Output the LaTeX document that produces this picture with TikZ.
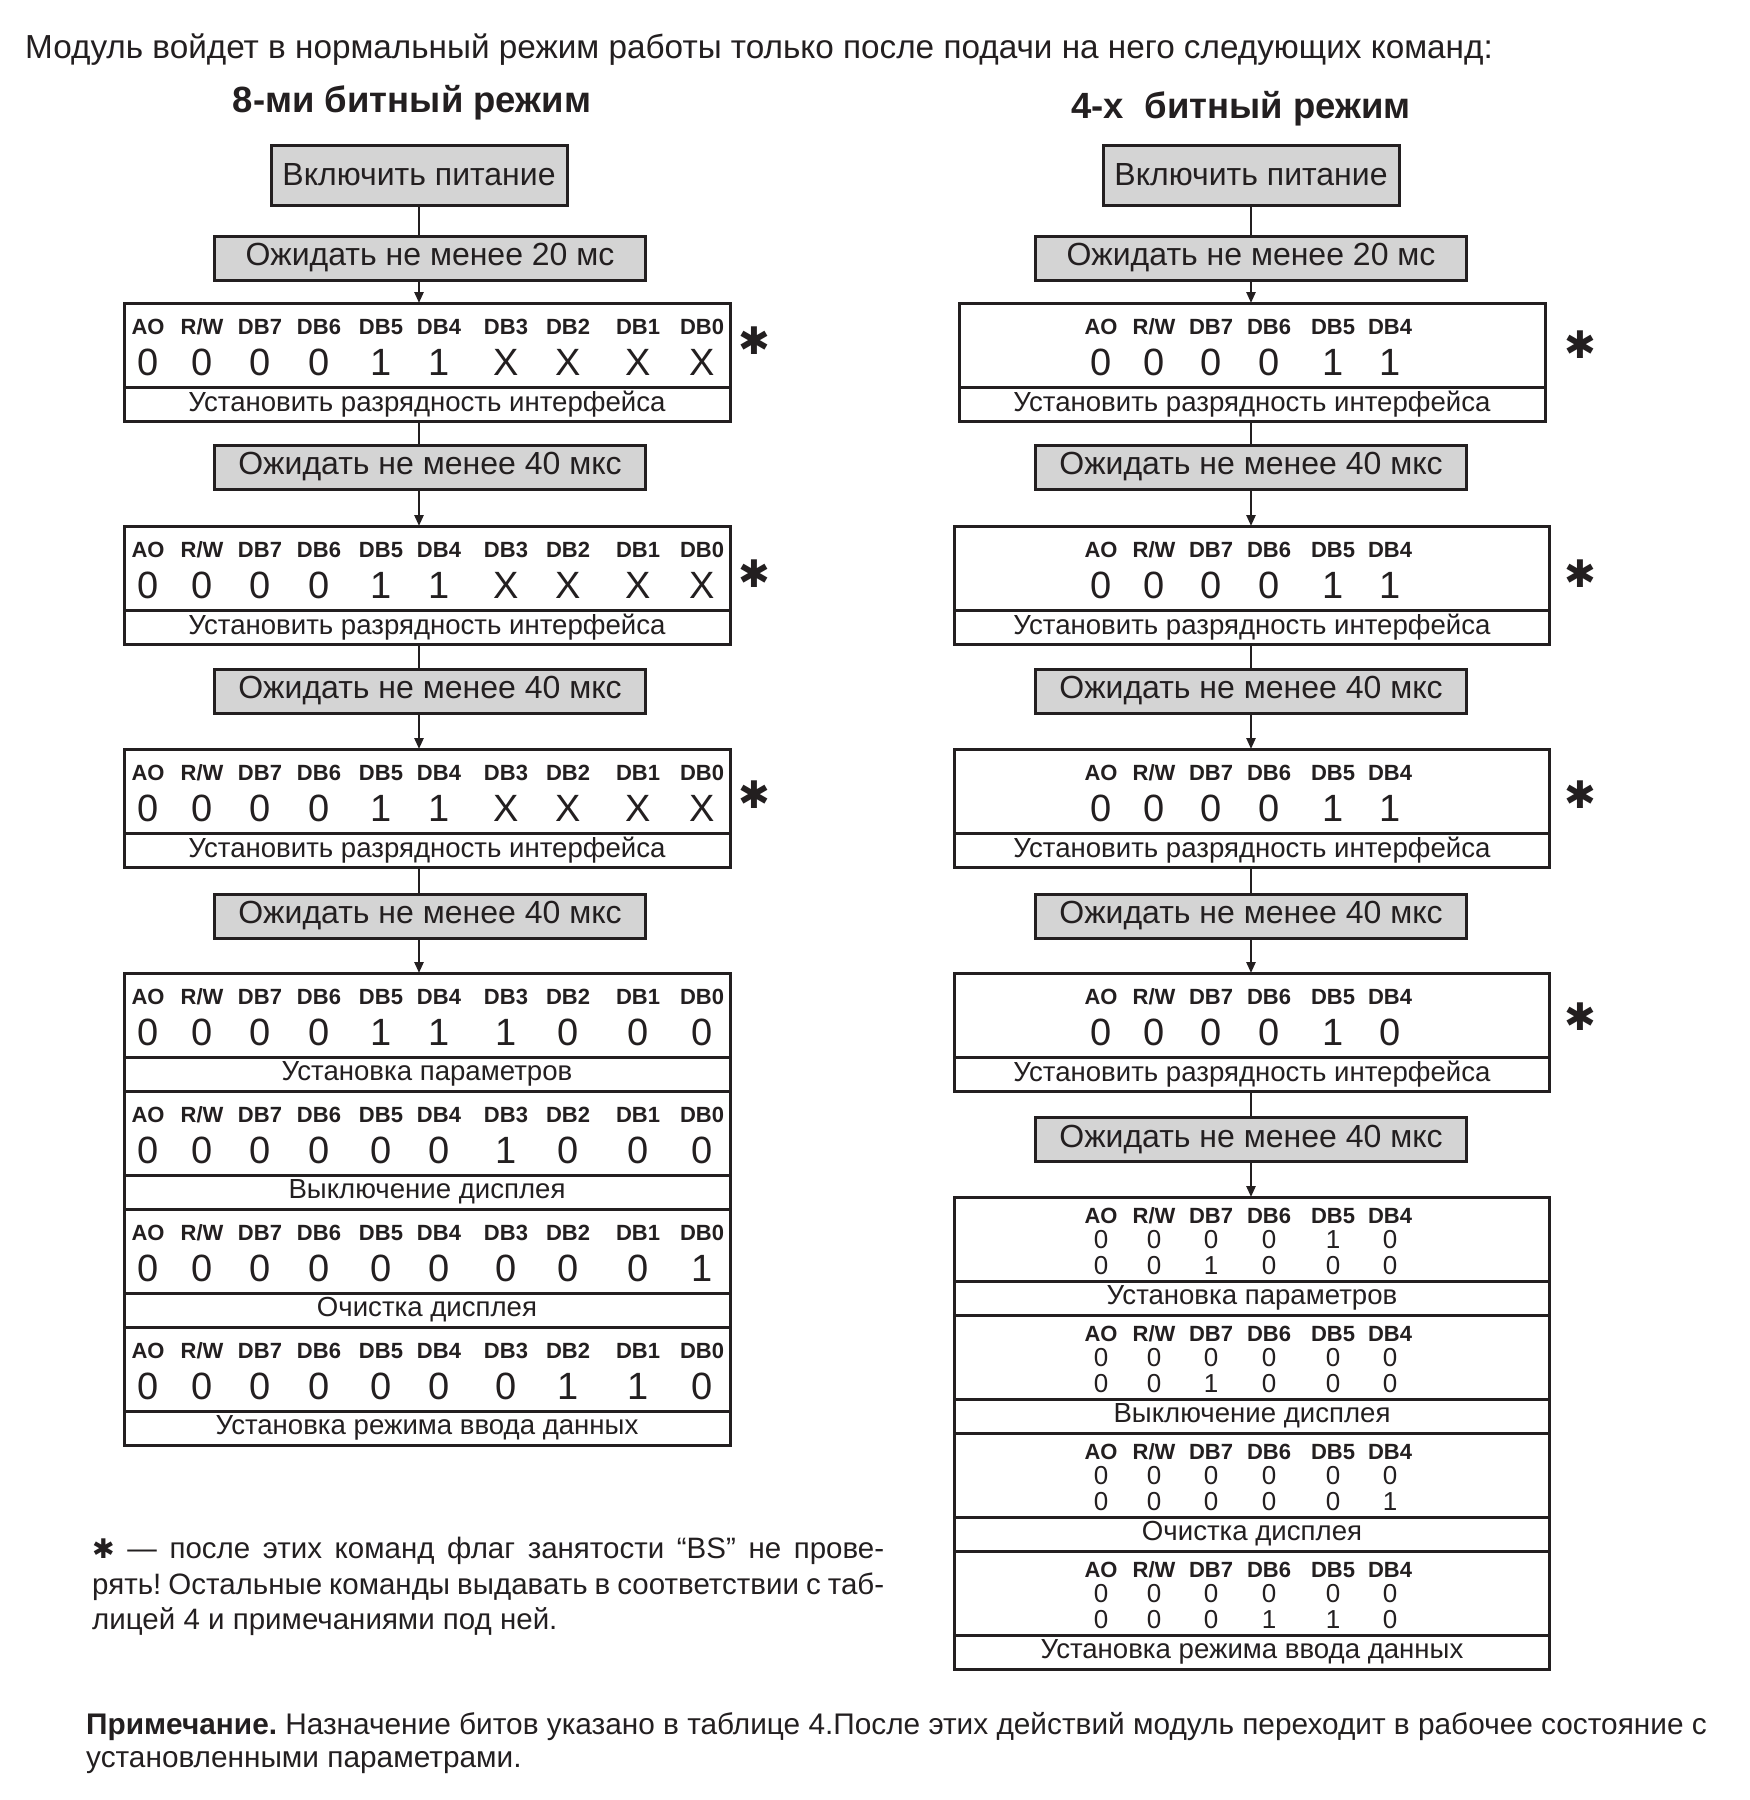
\documentclass[tikz,border=0pt]{standalone}
\usepackage{fontspec}
\setmainfont{Liberation Sans}
\newfontfamily\symfont{DejaVu Sans}
\usetikzlibrary{arrows.meta,calc}
\frenchspacing

\definecolor{ink}{RGB}{35,31,32}
\definecolor{boxgray}{RGB}{212,212,212}
\newcommand\fsz[1]{\fontsize{#1}{#1}\selectfont}

\tikzset{
  frame/.style={draw=ink, line width=3pt, inner sep=0pt, outer sep=0pt, text=ink},
  powerbox/.style={frame, fill=boxgray, minimum width=296pt, minimum height=60pt, font=\fsz{32}},
  waitbox/.style={frame, fill=boxgray, minimum width=431pt, minimum height=44pt, font=\fsz{32}},
  field8/.style={frame, fill=white, minimum width=606pt, minimum height=84pt},
  cap8/.style={frame, fill=white, minimum width=606pt, minimum height=34pt, font=\fsz{27.6}, anchor=north},
  field4/.style={frame, fill=white, minimum width=595pt, minimum height=84pt},
  cap4/.style={frame, fill=white, minimum width=595pt, minimum height=34pt, font=\fsz{27.6}, anchor=north},
  bitlbl/.style={inner sep=0pt, text=ink, font=\fsz{22}\bfseries, text height=16pt, text depth=0pt},
  bitval/.style={inner sep=0pt, text=ink, font=\fsz{38}, text height=27pt, text depth=0pt},
  bitsmall/.style={inner sep=0pt, text=ink, font=\fsz{26}, text height=18pt, text depth=0pt},
  star/.style={inner sep=0pt, text=ink, font=\symfont\fsz{38}},
  link/.style={draw=ink, line width=2.5pt},
  feed/.style={link, -{Triangle[width=9pt,length=11pt]}},
}

% 8-bit field: box name, ten values
\newcommand\bitsE[2]{%
  \foreach \dx/\l [count=\i] in {24/AO,78/{R/W},136/DB7,195/DB6,257/DB5,315/DB4,382/DB3,444/DB2,514/DB1,578/DB0}
    \node[bitlbl] (#1-l\i) at ($(#1.north west)+(\dx,23)$) {\l};
  \foreach \v [count=\i] in {#2}
    \node[bitval] (#1-v\i) at ($(#1-l\i)+(0,36)$) {\v};
}
% 4-bit field: box name, six values
\newcommand\bitsF[2]{%
  \foreach \dx/\l [count=\i] in {-151/AO,-98/{R/W},-41/DB7,17/DB6,81/DB5,138/DB4}
    \node[bitlbl] (#1-l\i) at ($(#1.north)+(\dx,23)$) {\l};
  \foreach \v [count=\i] in {#2}
    \node[bitval] (#1-v\i) at ($(#1-l\i)+(0,36)$) {\v};
}
% 4-bit field sent as two nibbles: box name, first, second
\newcommand\bitsFF[3]{%
  \foreach \dx/\l [count=\i] in {-151/AO,-98/{R/W},-41/DB7,17/DB6,81/DB5,138/DB4}
    \node[bitlbl] (#1-l\i) at ($(#1.north)+(\dx,18)$) {\l};
  \foreach \v [count=\i] in {#2}
    \node[bitsmall] (#1-a\i) at ($(#1-l\i)+(0,24)$) {\v};
  \foreach \v [count=\i] in {#3}
    \node[bitsmall] (#1-b\i) at ($(#1-l\i)+(0,50)$) {\v};
}

\begin{document}
\begin{tikzpicture}[x=1pt,y=-1pt]
\useasboundingbox (0,0) rectangle (1750,1800);

% heading
\node[anchor=base west, inner sep=0pt, text=ink, font=\fsz{33.3}] (intro) at (25,58)
  {Модуль войдет в нормальный режим работы только после подачи на него следующих команд:};
\node[anchor=base, inner sep=0pt, text=ink, font=\fsz{36.5}\bfseries] (head8) at (412,112) {8-ми битный режим};
\node[anchor=base, inner sep=0pt, text=ink, font=\fsz{36.5}\bfseries] (head4) at (1241,118) {4-х\ \ битный режим};

% --- 8-BIT ---
\node[powerbox] (p8) at (419,175) {Включить питание};
\node[waitbox] (w8a) at (430,258) {Ожидать не менее 20 мс};
\node[field8] (c8a) at (427,345) {};
\node[cap8] (c8a-t) at (c8a.south) {Установить разрядность интерфейса};
\node[waitbox] (w8b) at (430,467) {Ожидать не менее 40 мкс};
\node[field8] (c8b) at (427,568) {};
\node[cap8] (c8b-t) at (c8b.south) {Установить разрядность интерфейса};
\node[waitbox] (w8c) at (430,691) {Ожидать не менее 40 мкс};
\node[field8] (c8c) at (427,791) {};
\node[cap8] (c8c-t) at (c8c.south) {Установить разрядность интерфейса};
\node[waitbox] (w8d) at (430,916) {Ожидать не менее 40 мкс};
% final block
\node[field8] (s8a) at (427,1015) {};
\node[cap8] (s8a-t) at (s8a.south) {Установка параметров};
\node[field8, anchor=north] (s8b) at (s8a-t.south) {};
\node[cap8] (s8b-t) at (s8b.south) {Выключение дисплея};
\node[field8, anchor=north] (s8c) at (s8b-t.south) {};
\node[cap8] (s8c-t) at (s8c.south) {Очистка дисплея};
\node[field8, anchor=north] (s8d) at (s8c-t.south) {};
\node[cap8] (s8d-t) at (s8d.south) {Установка режима ввода данных};

\bitsE{c8a}{0,0,0,0,1,1,X,X,X,X}
\bitsE{c8b}{0,0,0,0,1,1,X,X,X,X}
\bitsE{c8c}{0,0,0,0,1,1,X,X,X,X}
\bitsE{s8a}{0,0,0,0,1,1,1,0,0,0}
\bitsE{s8b}{0,0,0,0,0,0,1,0,0,0}
\bitsE{s8c}{0,0,0,0,0,0,0,0,0,1}
\bitsE{s8d}{0,0,0,0,0,0,0,1,1,0}

\foreach \a/\b in {p8/w8a,c8a-t/w8b,c8b-t/w8c,c8c-t/w8d}
  \draw[link] (p8.south |- \a.south) -- (p8.south |- \b.north);
\foreach \a/\b in {w8a/c8a,w8b/c8b,w8c/c8c,w8d/s8a}
  \draw[feed] (p8.south |- \a.south) -- (p8.south |- \b.north);

\node[star] (st8a) at (754,341) {✱};
\node[star] (st8b) at (754,574) {✱};
\node[star] (st8c) at (754,795) {✱};

% --- 4-BIT ---
\node[powerbox] (p4) at (1251,175) {Включить питание};
\node[waitbox] (w4a) at (1251,258) {Ожидать не менее 20 мс};
\node[field4, minimum width=586pt] (c4a) at (1252,345) {};
\node[cap4, minimum width=586pt] (c4a-t) at (c4a.south) {Установить разрядность интерфейса};
\node[waitbox] (w4b) at (1251,467) {Ожидать не менее 40 мкс};
\node[field4] (c4b) at (1252,568) {};
\node[cap4] (c4b-t) at (c4b.south) {Установить разрядность интерфейса};
\node[waitbox] (w4c) at (1251,691) {Ожидать не менее 40 мкс};
\node[field4] (c4c) at (1252,791) {};
\node[cap4] (c4c-t) at (c4c.south) {Установить разрядность интерфейса};
\node[waitbox] (w4d) at (1251,916) {Ожидать не менее 40 мкс};
\node[field4] (c4d) at (1252,1015) {};
\node[cap4] (c4d-t) at (c4d.south) {Установить разрядность интерфейса};
\node[waitbox] (w4e) at (1251,1139) {Ожидать не менее 40 мкс};
% final block
\node[field4] (s4a) at (1252,1239) {};
\node[cap4] (s4a-t) at (s4a.south) {Установка параметров};
\node[field4, anchor=north] (s4b) at (s4a-t.south) {};
\node[cap4] (s4b-t) at (s4b.south) {Выключение дисплея};
\node[field4, anchor=north] (s4c) at (s4b-t.south) {};
\node[cap4] (s4c-t) at (s4c.south) {Очистка дисплея};
\node[field4, anchor=north] (s4d) at (s4c-t.south) {};
\node[cap4] (s4d-t) at (s4d.south) {Установка режима ввода данных};

\bitsF{c4a}{0,0,0,0,1,1}
\bitsF{c4b}{0,0,0,0,1,1}
\bitsF{c4c}{0,0,0,0,1,1}
\bitsF{c4d}{0,0,0,0,1,0}
\bitsFF{s4a}{0,0,0,0,1,0}{0,0,1,0,0,0}
\bitsFF{s4b}{0,0,0,0,0,0}{0,0,1,0,0,0}
\bitsFF{s4c}{0,0,0,0,0,0}{0,0,0,0,0,1}
\bitsFF{s4d}{0,0,0,0,0,0}{0,0,0,1,1,0}

\foreach \a/\b in {p4/w4a,c4a-t/w4b,c4b-t/w4c,c4c-t/w4d,c4d-t/w4e}
  \draw[link] (p4.south |- \a.south) -- (p4.south |- \b.north);
\foreach \a/\b in {w4a/c4a,w4b/c4b,w4c/c4c,w4d/c4d,w4e/s4a}
  \draw[feed] (p4.south |- \a.south) -- (p4.south |- \b.north);

\node[star] (st4a) at (1580,345) {✱};
\node[star] (st4b) at (1580,574) {✱};
\node[star] (st4c) at (1580,795) {✱};
\node[star] (st4d) at (1580,1017) {✱};

% notes
\node[anchor=north west, inner sep=0pt, text=ink, text width=792pt, align=justify,
      font=\fontsize{29.5}{35.5}\selectfont] (fnote) at (92,1537)
  {{\symfont\fsz{27}✱} — после этих команд флаг занятости “BS” не прове-\linebreak
   рять! Остальные команды выдавать в соответствии с таб-\linebreak
   лицей 4 и примечаниями под ней.};
\node[anchor=north west, inner sep=0pt, text=ink, align=left,
      font=\fontsize{29.8}{33}\selectfont] (remark) at (86,1712)
  {\textbf{Примечание.} Назначение битов указано в таблице 4.После этих действий модуль переходит в рабочее состояние с\\
   установленными параметрами.};
\end{tikzpicture}
\end{document}
